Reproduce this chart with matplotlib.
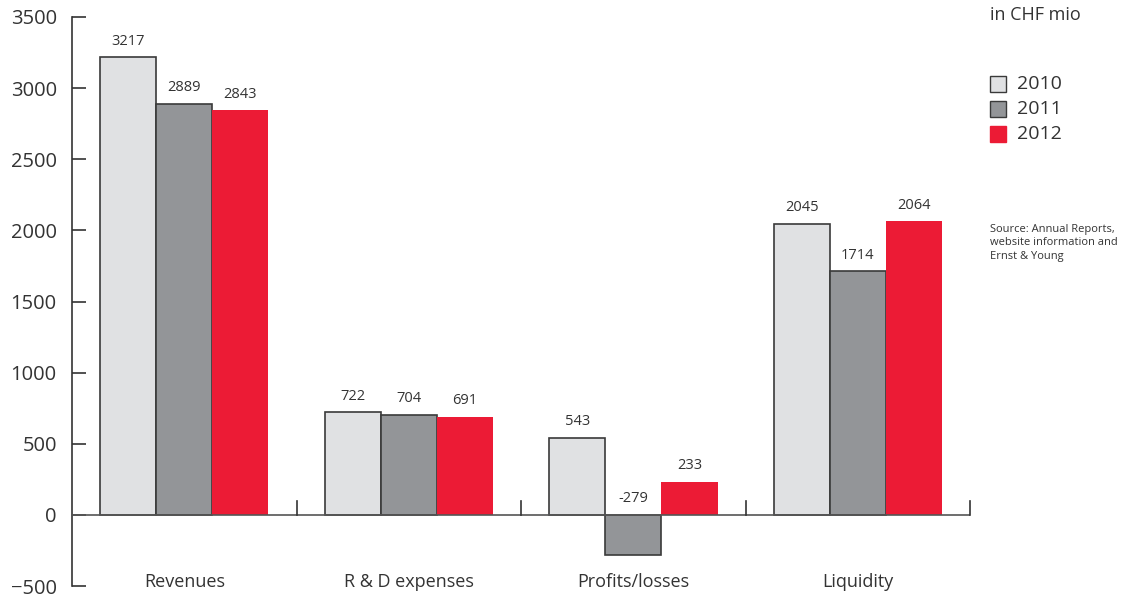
import matplotlib
matplotlib.use("Agg")
import matplotlib.pyplot as plt
from matplotlib.patches import Rectangle

categories = ["Revenues", "R & D expenses", "Profits/losses", "Liquidity"]
years = ["2010", "2011", "2012"]
values_2010 = [3217, 722, 543, 2045]
values_2011 = [2889, 704, -279, 1714]
values_2012 = [2843, 691, 233, 2064]
yticks = [-500, 0, 500, 1000, 1500, 2000, 2500, 3000, 3500]

series = [values_2010, values_2011, values_2012]
colors = ["#e0e1e3", "#939598", "#ec1b35"]
edges = ["#3a3a3a", "#3a3a3a", "none"]
txt = "#333333"

plt.rcParams['font.family'] = ['Open Sans', 'DejaVu Sans']
fig = plt.figure(figsize=(11.38, 5.98), dpi=100)
ax = fig.add_axes([0.0633, 0.020, 0.7892, 0.9516])
ax.set_xlim(0, 4)
ax.set_ylim(-500, 3500)

w = 0.25
for j, vals in enumerate(series):
    xs = [i + 0.5 + (j - 1) * w for i in range(len(categories))]
    ax.bar(xs, vals, width=w, color=colors[j], edgecolor=edges[j],
           linewidth=1.2 if edges[j] != "none" else 0, zorder=2)
    for x, v in zip(xs, vals):
        y = max(v, 0) + 60
        ax.text(x, y, str(v), ha="center", va="bottom",
                fontsize=10.5, color=txt)

# zero line and group separators
ax.axhline(0, color="#555555", lw=1.2, zorder=3)
for i in range(1, 5):
    ax.plot([i, i], [0, 100], color="#333333", lw=1.2, zorder=3, clip_on=False)

for s in ["top", "right", "bottom"]:
    ax.spines[s].set_visible(False)
ax.spines["left"].set_color("#333333")
ax.spines["left"].set_linewidth(1.2)
ax.spines["left"].set_position(("data", 0))
ax.set_yticks(yticks)
ax.set_yticklabels(["\u2212500" if t < 0 else str(t) for t in yticks])
ax.tick_params(axis="y", direction="in", length=10, width=1.2, color="#333333",
               labelsize=14.5, labelcolor=txt, pad=11)
ax.set_xticks([])
for i, c in enumerate(categories):
    ax.text(i + 0.5, -470, c, ha="center", va="center", fontsize=13, color=txt)

# legend and notes
fig.text(0.870, 0.975, "in CHF mio", fontsize=13, color=txt, ha="left", va="center")
for k, (yr, c, e) in enumerate(zip(years, colors, edges)):
    yc = 1 - (84 + 25 * k) / 598
    fig.patches.append(Rectangle((990 / 1138, yc - 8 / 598), 16 / 1138, 16 / 598,
                                 transform=fig.transFigure, facecolor=c,
                                 edgecolor=e if e != "none" else c, lw=1.0))
    fig.text(1017 / 1138, yc, yr, fontsize=14, color=txt, ha="left", va="center")
fig.text(990 / 1138, 1 - 224 / 598,
         "Source: Annual Reports,\nwebsite information and\nErnst & Young",
         fontsize=8, color=txt, ha="left", va="top", linespacing=1.3)

fig.savefig("out.png", dpi=100)
